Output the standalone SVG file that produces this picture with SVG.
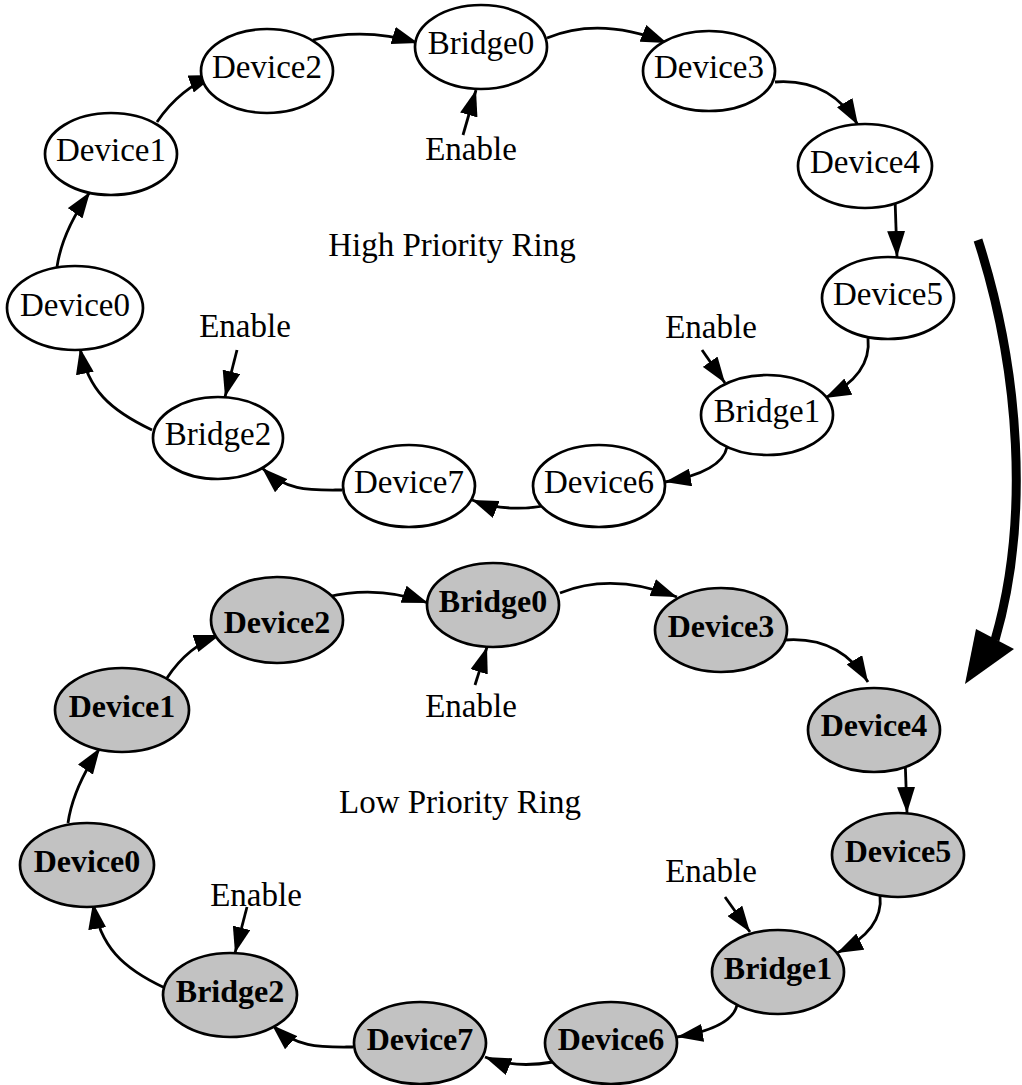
<svg xmlns="http://www.w3.org/2000/svg" width="1022" height="1085" viewBox="0 0 1022 1085">
  <style>
    .node { stroke: #000; stroke-width: 2.7; }
    .hi { fill: #fff; }
    .lo { fill: #c2c2c2; }
    .lbl { font-family: "Liberation Serif", "Times New Roman", serif; font-size: 33px; fill: #000; text-anchor: middle; }
    .lo-lbl { font-weight: bold; font-size: 32px; }
    .edge { fill: none; stroke: #000; stroke-width: 2.8; marker-end: url(#arrow); }
    .note { font-family: "Liberation Serif", "Times New Roman", serif; font-size: 33px; fill: #000; }
  </style>
  <defs>
    <marker id="arrow" markerUnits="userSpaceOnUse" markerWidth="28" markerHeight="18" refX="26" refY="9" orient="auto">
      <path d="M0,0 L26,9 L0,18 z" fill="#000"/>
    </marker>
  </defs>

  <rect width="1022" height="1085" fill="#fff"/>

  <!-- ring captions -->
  <text class="note" x="452" y="256" text-anchor="middle">High Priority Ring</text>
  <text class="note" x="460" y="813" text-anchor="middle">Low Priority Ring</text>

  <!-- enable inputs -->
  <text class="note" x="471" y="160" text-anchor="middle">Enable</text>
  <text class="note" x="245" y="337" text-anchor="middle">Enable</text>
  <text class="note" x="711" y="338" text-anchor="middle">Enable</text>
  <text class="note" x="471" y="717" text-anchor="middle">Enable</text>
  <text class="note" x="256" y="906" text-anchor="middle">Enable</text>
  <text class="note" x="711" y="882" text-anchor="middle">Enable</text>

  <!-- connectors -->
  <g id="connectors">
    <!-- high priority ring -->
    <path class="edge" d="M57,267 Q62,232 90,192"/>
    <path class="edge" d="M157,122 Q180,88 215,75"/>
    <path class="edge" d="M313,40 Q365,27 418,43"/>
    <path class="edge" d="M547,38 Q600,16 667,43"/>
    <path class="edge" d="M775,82 Q830,78 858,125"/>
    <path class="edge" d="M895,198 L897,257"/>
    <path class="edge" d="M868,338 Q872,375 825,398"/>
    <path class="edge" d="M727,447 Q722,472 665,482"/>
    <path class="edge" d="M547,505 C530,509 500,511 472,500"/>
    <path class="edge" d="M342,490 C310,490 288,492 262,468"/>
    <path class="edge" d="M152,430 C110,410 88,390 80,348"/>
    <path class="edge" d="M463,135 L476,90"/>
    <path class="edge" d="M237,350 L225,397"/>
    <path class="edge" d="M702,350 L725,383"/>

    <!-- low priority ring -->
    <path class="edge" d="M68,823 Q73,788 100,748"/>
    <path class="edge" d="M167,678 Q188,646 220,635"/>
    <path class="edge" d="M327,597 Q378,585 428,603"/>
    <path class="edge" d="M560,593 Q612,572 677,597"/>
    <path class="edge" d="M785,640 Q840,636 868,682"/>
    <path class="edge" d="M905,757 L907,813"/>
    <path class="edge" d="M880,895 Q884,930 837,953"/>
    <path class="edge" d="M737,1005 Q732,1028 677,1037"/>
    <path class="edge" d="M553,1062 C536,1065 510,1067 485,1057"/>
    <path class="edge" d="M353,1047 C322,1047 298,1049 272,1025"/>
    <path class="edge" d="M165,988 C122,968 100,946 93,903"/>
    <path class="edge" d="M475,685 L487,647"/>
    <path class="edge" d="M247,907 L235,953"/>
    <path class="edge" d="M725,897 L750,932"/>

    <!-- transition from high to low priority ring -->
    <path d="M978,240 C1020,370 1030,520 995,640" fill="none" stroke="#000" stroke-width="9"/>
    <polygon points="965,684 976,629 1014,649" fill="#000"/>
  </g>

  <!-- high priority ring nodes -->
  <g id="hi-device0"><ellipse class="node hi" cx="75" cy="308" rx="68" ry="42"/><text class="lbl" x="75" y="316">Device0</text></g>
  <g id="hi-device1"><ellipse class="node hi" cx="111" cy="154" rx="66" ry="41"/><text class="lbl" x="111" y="161">Device1</text></g>
  <g id="hi-device2"><ellipse class="node hi" cx="267" cy="71" rx="66" ry="42"/><text class="lbl" x="267" y="78">Device2</text></g>
  <g id="hi-bridge0"><ellipse class="node hi" cx="481" cy="47" rx="66" ry="42"/><text class="lbl" x="481" y="54">Bridge0</text></g>
  <g id="hi-device3"><ellipse class="node hi" cx="709" cy="71" rx="66" ry="40"/><text class="lbl" x="709" y="78">Device3</text></g>
  <g id="hi-device4"><ellipse class="node hi" cx="865" cy="166" rx="67" ry="42"/><text class="lbl" x="865" y="173">Device4</text></g>
  <g id="hi-device5"><ellipse class="node hi" cx="888" cy="298" rx="66" ry="41"/><text class="lbl" x="888" y="305">Device5</text></g>
  <g id="hi-bridge1"><ellipse class="node hi" cx="767" cy="415" rx="66" ry="40"/><text class="lbl" x="767" y="422">Bridge1</text></g>
  <g id="hi-device6"><ellipse class="node hi" cx="599" cy="486" rx="66" ry="41"/><text class="lbl" x="599" y="493">Device6</text></g>
  <g id="hi-device7"><ellipse class="node hi" cx="409" cy="486" rx="66" ry="41"/><text class="lbl" x="409" y="493">Device7</text></g>
  <g id="hi-bridge2"><ellipse class="node hi" cx="218" cy="438" rx="65" ry="41"/><text class="lbl" x="218" y="445">Bridge2</text></g>

  <!-- low priority ring nodes -->
  <g id="lo-device0"><ellipse class="node lo" cx="87" cy="865" rx="67" ry="42"/><text class="lbl lo-lbl" x="87" y="872">Device0</text></g>
  <g id="lo-device1"><ellipse class="node lo" cx="122" cy="710" rx="67" ry="42"/><text class="lbl lo-lbl" x="122" y="717">Device1</text></g>
  <g id="lo-device2"><ellipse class="node lo" cx="277" cy="620" rx="66" ry="43"/><text class="lbl lo-lbl" x="277" y="633">Device2</text></g>
  <g id="lo-bridge0"><ellipse class="node lo" cx="493" cy="605" rx="66" ry="42"/><text class="lbl lo-lbl" x="493" y="612">Bridge0</text></g>
  <g id="lo-device3"><ellipse class="node lo" cx="721" cy="630" rx="66" ry="42"/><text class="lbl lo-lbl" x="721" y="637">Device3</text></g>
  <g id="lo-device4"><ellipse class="node lo" cx="874" cy="730" rx="66" ry="42"/><text class="lbl lo-lbl" x="874" y="736">Device4</text></g>
  <g id="lo-device5"><ellipse class="node lo" cx="898" cy="855" rx="66" ry="42"/><text class="lbl lo-lbl" x="898" y="862">Device5</text></g>
  <g id="lo-bridge1"><ellipse class="node lo" cx="778" cy="972" rx="66" ry="42"/><text class="lbl lo-lbl" x="778" y="979">Bridge1</text></g>
  <g id="lo-device6"><ellipse class="node lo" cx="611" cy="1043" rx="66" ry="41"/><text class="lbl lo-lbl" x="611" y="1050">Device6</text></g>
  <g id="lo-device7"><ellipse class="node lo" cx="420" cy="1043" rx="66" ry="41"/><text class="lbl lo-lbl" x="420" y="1050">Device7</text></g>
  <g id="lo-bridge2"><ellipse class="node lo" cx="230" cy="995" rx="67" ry="42"/><text class="lbl lo-lbl" x="230" y="1002">Bridge2</text></g>
</svg>
